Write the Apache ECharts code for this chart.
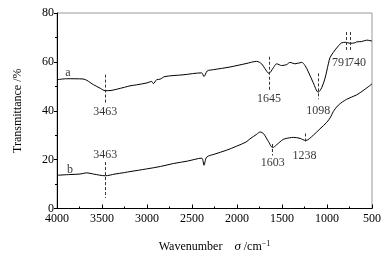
<!DOCTYPE html>
<html><head><meta charset="utf-8">
<script src="https://cdn.jsdelivr.net/npm/echarts@6/dist/echarts.min.js"></script>
<style>html,body{margin:0;padding:0;background:#fff}#c{width:390px;height:258px}</style>
</head><body><div id="c"></div>
<script>
var xTicks = [500, 1000, 1500, 2000, 2500, 3000, 3500, 4000];
var yTicks = [0, 20, 40, 60, 80];
var curveA = [
[4000,52.7],[3890,53.1],[3711,53.0],[3596,50.7],[3520,49.2],[3463,48.2],[3400,48.3],[3337,48.8],[3250,49.6],[3189,50.2],
[3115,50.6],[3000,51.4],[2948,52.0],[2930,51.1],[2893,52.7],[2856,52.9],[2800,54.0],[2600,54.7],[2393,55.5],[2367,54.0],
[2330,56.3],[2263,56.8],[2078,57.9],[1900,59.3],[1781,60.2],[1726,59.2],[1689,57.2],[1645,55.3],[1596,57.6],[1559,59.2],
[1504,58.5],[1448,58.9],[1411,59.8],[1356,59.2],[1281,59.8],[1244,58.5],[1207,55.9],[1152,51.4],[1098,47.6],[1059,49.4],
[1022,53.3],[985,59.2],[967,61.7],[930,63.9],[874,66.5],[837,67.8],[791,68.0],[744,67.6],[689,67.8],[670,68.2],[615,68.3],
[559,68.9],[500,68.5]
];
var curveB = [
[4000,13.6],[3856,13.9],[3744,14.1],[3670,14.6],[3596,14.1],[3463,13.4],[3356,14.1],[3250,14.7],[3189,15.1],[3004,16.2],
[2850,17.2],[2707,18.4],[2550,19.4],[2393,20.6],[2367,17.7],[2337,21.0],[2244,22.3],[2120,23.8],[2004,25.5],[1900,27.2],
[1856,28.5],[1780,30.4],[1744,31.3],[1707,30.7],[1652,27.5],[1603,24.9],[1559,26.1],[1485,28.3],[1420,28.9],[1374,29.1],
[1300,28.7],[1238,27.8],[1152,30.0],[1078,32.6],[1004,35.2],[960,37.4],[930,39.7],[874,42.3],[781,44.7],[670,46.5],
[578,48.8],[500,51.0]
];
// dashed peak markers: [wavenumber, yFrom, yTo]
var marksA = [[3463,54.8,43.1],[1645,62.1,48.2],[1098,55.3,44.7],[791,72.2,64.9],[740,72.2,64.9]];
var marksB = [[3463,19.0,4.3],[1603,26.4,21.7],[1238,30.7,26.8]];
// text labels: [x, y, text]
var peakLabels = [
[3463,39.6,'3463'],[1645,44.7,'1645'],[1098,40.0,'1098'],[844,59.8,'791'],[667,59.4,'740'],
[3463,22.1,'3463'],[1603,18.6,'1603'],[1250,21.4,'1238'],
[3878,55.5,'a'],[3856,15.9,'b']
];
var font = '"Liberation Serif","DejaVu Serif",serif';
function ml(marks){
  return {symbol:'none', silent:true, label:{show:false}, animation:false,
    lineStyle:{type:[3,2], color:'#333', width:1},
    data: marks.map(function(m){return [{coord:[m[0],m[1]]},{coord:[m[0],m[2]]}];})};
}
var chart = echarts.init(document.getElementById('c'));
chart.setOption({
  animation:false,
  grid:{left:57,right:18,top:13,bottom:39,show:true,borderColor:'#999',borderWidth:1},
  xAxis:{type:'value',inverse:true,min:500,max:4000,interval:500,
    name:'{n|Wavenumber}    {s|σ} /cm{p|−1}',nameLocation:'middle',nameGap:31,
    nameTextStyle:{fontFamily:font,fontSize:12,color:'#000',
      rich:{n:{fontFamily:font,fontSize:12,color:'#000'},
        s:{fontFamily:font,fontSize:13,fontStyle:'italic',color:'#000'},
        p:{fontFamily:font,fontSize:8,color:'#000',verticalAlign:'top',padding:[0,0,6,0]}}},
    axisLine:{lineStyle:{color:'#000',width:1}},
    axisTick:{inside:true,length:4,lineStyle:{color:'#000'}},
    minorTick:{show:true,splitNumber:2,length:2,lineStyle:{color:'#000'}},
    splitLine:{show:false},
    axisLabel:{fontFamily:font,fontSize:12,color:'#000',margin:4,
      formatter:function(v){return xTicks.indexOf(v)>=0?String(v):'';}}
  },
  yAxis:{type:'value',min:0,max:80,interval:20,
    name:'Transmittance /%',nameLocation:'middle',nameGap:33,
    nameTextStyle:{fontFamily:font,fontSize:12,color:'#000'},
    axisLine:{lineStyle:{color:'#000',width:1}},
    axisTick:{inside:false,length:3,lineStyle:{color:'#000'}},
    minorTick:{show:true,splitNumber:2,length:2,lineStyle:{color:'#000'}},
    splitLine:{show:false},
    axisLabel:{fontFamily:font,fontSize:12,color:'#000',margin:3,
      formatter:function(v){return yTicks.indexOf(v)>=0?String(v):'';}}
  },
  series:[
    {type:'line',data:curveA,showSymbol:false,smooth:0.3,lineStyle:{color:'#000',width:1},markLine:ml(marksA)},
    {type:'line',data:curveB,showSymbol:false,smooth:0.3,lineStyle:{color:'#000',width:1},markLine:ml(marksB)},
    {type:'scatter',data:peakLabels,symbolSize:0,silent:true,
      label:{show:true,position:'inside',fontFamily:font,fontSize:12,color:'#000',
        formatter:function(p){return p.value[2];}}}
  ]
});
</script></body></html>
